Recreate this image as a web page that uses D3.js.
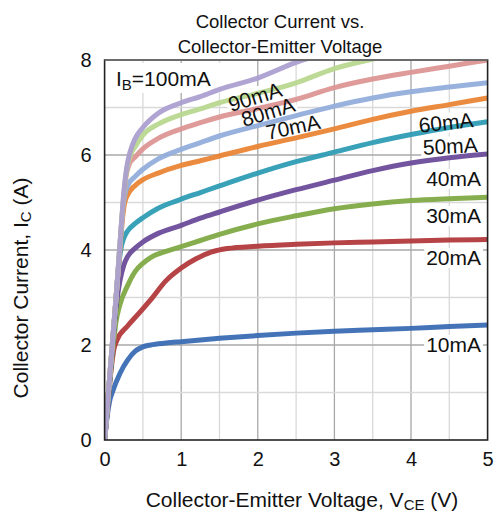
<!DOCTYPE html>
<html><head><meta charset="utf-8">
<script src="https://cdn.jsdelivr.net/npm/d3@7"></script>
<style>body{margin:0;background:#fff}svg{display:block;font-family:"Liberation Sans",Arial,sans-serif}</style>
</head><body><svg id="c" width="497" height="516"></svg>
<script>
const seriesNames = ["10mA","20mA","30mA","40mA","50mA","60mA","70mA","80mA","90mA","100mA"];
const seriesColors = ["#3a6db3","#b2393b","#7faa45","#6b4c9a","#2e9db4","#ea8535","#94aedb","#dc9695","#b8d88f","#ab9fd0"];
const vce10  = [0,0.03,0.07,0.1,0.2,0.3,0.4,0.5,0.6,0.8,1,1.5,2,2.5,3,3.5,4,4.5,5];
const ic10   = [0,0.45,0.85,1.0,1.4,1.68,1.87,1.96,2.0,2.04,2.07,2.14,2.2,2.25,2.29,2.32,2.35,2.39,2.42];
const vce20  = [0,0.04,0.08,0.12,0.16,0.3,0.45,0.6,0.8,1,1.2,1.4,1.6,2,2.5,3,3.5,4,4.5,5];
const ic20   = [0,0.7,1.4,1.9,2.1,2.4,2.67,2.95,3.35,3.62,3.82,3.96,4.03,4.08,4.12,4.15,4.17,4.19,4.21,4.22];
const vce30  = [0,0.05,0.1,0.15,0.2,0.3,0.4,0.5,0.6,0.8,1,1.25,1.5,2,2.5,3,3.5,4,4.5,5];
const ic30   = [0,0.9,1.8,2.5,2.85,3.25,3.55,3.72,3.84,3.97,4.07,4.2,4.33,4.55,4.72,4.87,4.97,5.04,5.08,5.11];
const vce40  = [0,0.05,0.1,0.15,0.2,0.25,0.3,0.4,0.5,0.7,1,1.25,1.5,2,2.5,3,3.5,4,4.5,5];
const ic40   = [0,0.95,1.9,2.8,3.35,3.68,3.86,4.04,4.17,4.35,4.52,4.67,4.8,5.05,5.27,5.47,5.67,5.83,5.94,6.02];
const vce50  = [0,0.05,0.1,0.15,0.18,0.21,0.25,0.3,0.4,0.5,0.7,1,1.25,1.5,2,2.5,3,3.5,4,4.5,5];
const ic50   = [0,0.95,1.95,3.0,3.6,4.0,4.25,4.4,4.56,4.68,4.88,5.07,5.21,5.35,5.62,5.86,6.06,6.26,6.43,6.58,6.7];
const vce60  = [0,0.05,0.1,0.15,0.2,0.23,0.26,0.3,0.4,0.5,0.7,1,1.25,1.5,2,2.5,3,3.5,4,4.5,5];
const ic60   = [0,1.0,2.0,3.0,4.0,4.6,4.98,5.16,5.36,5.48,5.62,5.78,5.88,5.98,6.18,6.36,6.55,6.75,6.92,7.06,7.2];
const vce70  = [0,0.05,0.1,0.15,0.2,0.24,0.27,0.31,0.4,0.5,0.7,1,1.25,1.5,2,2.5,3,3.5,4,4.5,5];
const ic70   = [0,1.0,2.0,3.0,4.1,4.9,5.2,5.38,5.55,5.7,5.92,6.12,6.26,6.4,6.62,6.83,7.03,7.2,7.33,7.43,7.52];
const vce80  = [0,0.05,0.1,0.15,0.2,0.25,0.28,0.32,0.4,0.5,0.7,1,1.25,1.5,2,2.5,3,3.5,4,4.5,5];
const ic80   = [0,1.0,2.0,3.0,4.1,5.1,5.55,5.8,5.96,6.13,6.35,6.55,6.68,6.8,6.98,7.17,7.42,7.6,7.74,7.87,8.0];
const vce90  = [0,0.05,0.1,0.15,0.2,0.25,0.28,0.32,0.4,0.5,0.7,1,1.25,1.5,2,2.5,3,3.5,4];
const ic90   = [0,1.0,2.0,3.0,4.1,5.15,5.6,5.92,6.18,6.42,6.65,6.85,6.97,7.1,7.3,7.52,7.82,8.02,8.2];
const vce100 = [0,0.05,0.1,0.15,0.2,0.25,0.29,0.33,0.4,0.5,0.7,1,1.25,1.5,2,2.5,3];
const ic100  = [0,1.0,2.0,3.0,4.1,5.2,5.75,6.05,6.35,6.58,6.88,7.1,7.23,7.38,7.62,7.95,8.2];
const xTicks = [0,1,2,3,4,5];
const yTicks = [0,2,4,6,8];

const vceAll = [vce10,vce20,vce30,vce40,vce50,vce60,vce70,vce80,vce90,vce100];
const icAll  = [ic10,ic20,ic30,ic40,ic50,ic60,ic70,ic80,ic90,ic100];

const svg = d3.select("#c");
const L=104.6, R=487.6, T=60, B=440;
const x = d3.scaleLinear().domain([0,5]).range([L,R]);
const y = d3.scaleLinear().domain([0,8]).range([B,T]);

// grid
const g = svg.append("g");
d3.range(0.5,5,0.5).forEach(v=>{
  g.append("line").attr("x1",x(v)).attr("x2",x(v)).attr("y1",T).attr("y2",B)
   .attr("stroke", Number.isInteger(v)?"#a8a8a8":"#d9d9d9").attr("stroke-width",1.3);
});
d3.range(1,8,1).forEach(v=>{
  g.append("line").attr("x1",L).attr("x2",R).attr("y1",y(v)).attr("y2",y(v))
   .attr("stroke", v%2===0?"#a8a8a8":"#d9d9d9").attr("stroke-width",1.3);
});

// labels config (pixel placement)
const rightLabels = [
  {t:"10mA", x:481, y:352, r:0},
  {t:"20mA", x:481, y:265, r:0},
  {t:"30mA", x:481, y:223, r:0},
  {t:"40mA", x:481, y:186, r:0},
  {t:"50mA", x:478, y:152, r:-3},
  {t:"60mA", x:474, y:127, r:-6}
];
const rotLabels = [
  {t:"90mA", x:255, y:97, r:-17},
  {t:"80mA", x:268, y:112, r:-17},
  {t:"70mA", x:293, y:127, r:-12}
];
const bgLayer = svg.append("g");
const clip = svg.append("clipPath").attr("id","pc").append("rect")
  .attr("x",L).attr("y",T).attr("width",R-L).attr("height",B-T);
const curveLayer = svg.append("g").attr("clip-path","url(#pc)");
const textLayer = svg.append("g");

const line = d3.line().x(d=>x(d[0])).y(d=>y(d[1])).curve(d3.curveMonotoneX);
seriesNames.forEach((n,i)=>{
  const pts = vceAll[i].map((v,j)=>[v,icAll[i][j]]);
  curveLayer.append("path").attr("d",line(pts)).attr("fill","none")
    .attr("stroke",seriesColors[i]).attr("stroke-width",5).attr("stroke-linejoin","round")
    .attr("stroke-linecap","round").attr("stroke-opacity",0.95);
});

function addLabel(lb, anchor, baseline){
  const tg = textLayer.append("g").attr("transform",`translate(${lb.x},${lb.y}) rotate(${lb.r})`);
  const tx = tg.append("text").attr("text-anchor",anchor).attr("font-size",21).attr("fill","#111").text(lb.t);
  if(baseline) tx.attr("dy","0.35em");
  const bb = tx.node().getBBox();
  bgLayer.append("rect").attr("transform",`translate(${lb.x},${lb.y}) rotate(${lb.r})`)
    .attr("x",bb.x-2).attr("y",bb.y+2).attr("width",bb.width+4).attr("height",bb.height-3).attr("fill","#fff");
}
rightLabels.forEach(lb=>addLabel(lb,"end",false));
rotLabels.forEach(lb=>addLabel(lb,"middle",true));

// IB label
const ib = textLayer.append("text").attr("x",116).attr("y",86).attr("font-size",21).attr("fill","#111");
ib.append("tspan").text("I");
ib.append("tspan").attr("font-size",15).attr("dy",4).text("B");
ib.append("tspan").attr("dy",-4).text("=100mA");
bgLayer.append("rect").attr("x",110).attr("y",63).attr("width",113).attr("height",30).attr("fill","#fff");

// frame
svg.append("rect").attr("x",L).attr("y",T).attr("width",R-L).attr("height",B-T)
  .attr("fill","none").attr("stroke","#222").attr("stroke-width",1.6);
svg.append("line").attr("x1",L).attr("x2",R).attr("y1",T).attr("y2",T).attr("stroke","#777").attr("stroke-width",1.6);

// axes
const xa = svg.append("g").attr("transform",`translate(0,${B})`)
  .call(d3.axisBottom(x).tickValues(xTicks).tickSize(0).tickPadding(12).tickFormat(d3.format("d")));
xa.select(".domain").remove();
xa.selectAll("text").attr("font-size",20).attr("fill","#111").attr("font-family","Liberation Sans, Arial, sans-serif");
const ya = svg.append("g").attr("transform",`translate(${L},0)`)
  .call(d3.axisLeft(y).tickValues(yTicks).tickSize(0).tickPadding(13).tickFormat(d3.format("d")));
ya.select(".domain").remove();
ya.selectAll("text").attr("font-size",20).attr("fill","#111").attr("font-family","Liberation Sans, Arial, sans-serif");

// titles
svg.append("text").attr("x",280).attr("y",28).attr("text-anchor","middle").attr("font-size",18.5).attr("fill","#111").text("Collector Current vs.");
svg.append("text").attr("x",280).attr("y",53).attr("text-anchor","middle").attr("font-size",18.5).attr("fill","#111").text("Collector-Emitter Voltage");

const xt = svg.append("text").attr("x",302).attr("y",507).attr("text-anchor","middle").attr("font-size",21).attr("fill","#111");
xt.append("tspan").text("Collector-Emitter Voltage, V");
xt.append("tspan").attr("font-size",15).attr("dy",3).text("CE");
xt.append("tspan").attr("dy",-3).text(" (V)");

const yt = svg.append("text").attr("transform","translate(28,288) rotate(-90)").attr("text-anchor","middle").attr("font-size",21).attr("fill","#111");
yt.append("tspan").text("Collector Current, I");
yt.append("tspan").attr("font-size",15).attr("dy",3).text("C");
yt.append("tspan").attr("dy",-3).text(" (A)");
</script></body></html>
